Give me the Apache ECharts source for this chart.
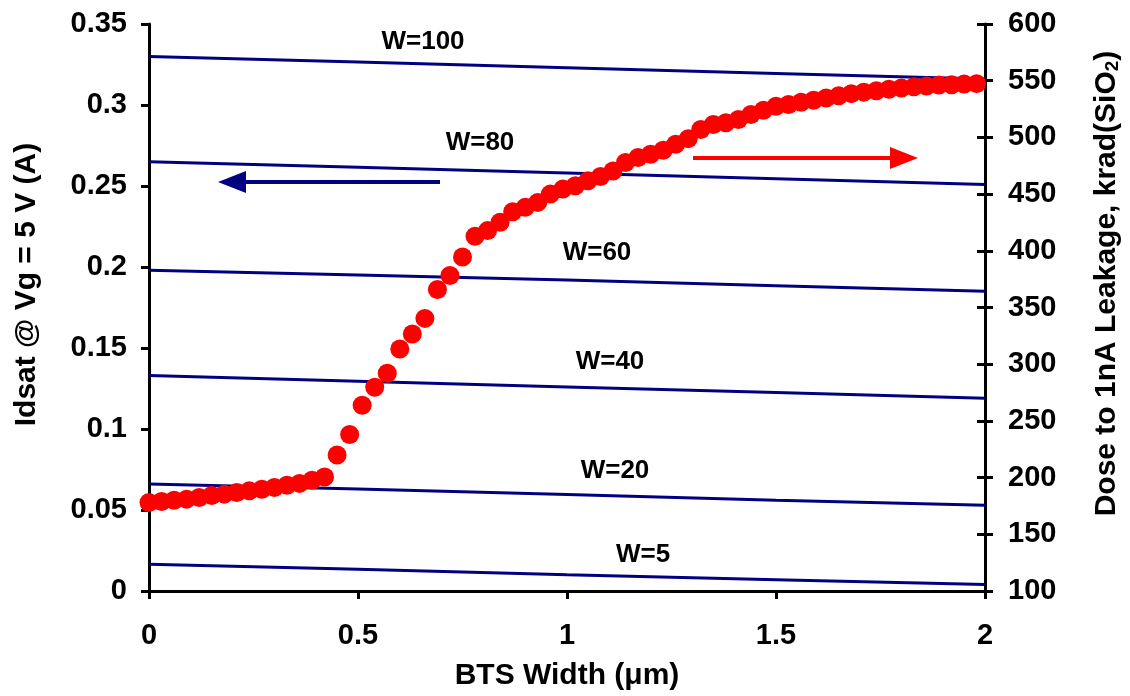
<!DOCTYPE html>
<html><head><meta charset="utf-8">
<script src="https://cdn.jsdelivr.net/npm/echarts@6/dist/echarts.min.js"></script>
<style>html,body{margin:0;padding:0;background:#fff;overflow:hidden;width:1130px;height:696px}#c{width:1130px;height:696px}</style>
</head><body><div id="c"></div>
<script>
// BTS width positions of the dose points (µm)
const doseX = [0,0.03,0.06,0.09,0.12,0.15,0.18,0.21,0.24,0.27,0.30,0.33,0.36,0.39,0.42,0.45,0.48,0.51,0.54,0.57,0.60,0.63,0.66,0.69,0.72,0.75,0.78,0.81,0.84,0.87,0.90,0.93,0.96,0.99,1.02,1.05,1.08,1.11,1.14,1.17,1.20,1.23,1.26,1.29,1.32,1.35,1.38,1.41,1.44,1.47,1.50,1.53,1.56,1.59,1.62,1.65,1.68,1.71,1.74,1.77,1.80,1.83,1.86,1.89,1.92,1.95,1.98];
// Dose to 1nA leakage, krad(SiO2)
const doseY = [178.1,178.9,180.1,181.0,182.5,184.2,185.4,186.8,188.3,189.7,191.2,193.2,194.9,197.6,200.6,219.9,238.0,263.8,279.6,292.1,313.4,326.6,340.4,365.8,378.3,394.5,412.9,417.8,425.2,434.5,438.3,442.7,450.0,454.4,457.3,461.7,465.5,470.4,477.8,482.2,485.1,488.6,493.9,498.9,507.0,511.4,512.9,515.8,520.2,524.0,527.5,529.0,531.0,532.7,534.8,536.8,538.6,539.9,541.2,542.5,543.6,544.6,545.4,546.1,546.5,547.1,547.4];
// Idsat lines (A) at these widths
const lineX = [0,0.5,1,1.5,2];
const w100 = [0.330,0.3265,0.323,0.3195,0.316];
const w80 = [0.265,0.2615,0.258,0.2545,0.251];
const w60 = [0.198,0.195,0.192,0.1885,0.185];
const w40 = [0.133,0.1295,0.126,0.1225,0.119];
const w20 = [0.066,0.063,0.0595,0.056,0.053];
const w5 = [0.0165,0.0135,0.010,0.007,0.004];
const lineNames = ['W=100','W=80','W=60','W=40','W=20','W=5'];
const lineData = [w100,w80,w60,w40,w20,w5];
// annotation labels
const labelText = ['W=100','W=80','W=60','W=40','W=20','W=5'];

const FONT = '"Liberation Sans", Arial, sans-serif';
const chart = echarts.init(document.getElementById('c'), null, {width:1130, height:696});
const axisLine = {show:true, lineStyle:{color:'#000', width:3}};
const tickOut = {show:true, length:8, lineStyle:{color:'#000', width:3}};
const lbl = {color:'#000', fontSize:29, fontWeight:'bold', fontFamily:FONT};
const titleStyle = {color:'#000', fontSize:30, fontWeight:'bold', fontFamily:FONT};

const series = lineData.map((d,k)=>({
  name: lineNames[k], type:'line', xAxisIndex:0, yAxisIndex:0,
  data: lineX.map((x,i)=>[x,d[i]]), showSymbol:false, symbol:'none',
  lineStyle:{color:'#000080', width:3}, z:2, silent:true
}));
series.push({
  name:'Dose', type:'scatter', xAxisIndex:0, yAxisIndex:1,
  data: doseX.map((x,i)=>[x,doseY[i]]), symbolSize:19,
  itemStyle:{color:'#ff0000', opacity:1}, z:5
});

const labelPos = [[423,42],[480,143],[597,253],[610,362],[615,471],[643,555]];
const graphics = labelText.map((t,i)=>({
  type:'text', x:labelPos[i][0], y:labelPos[i][1], z:10,
  style:{text:t, fill:'#000', font:'bold 26px '+FONT, textAlign:'center', textVerticalAlign:'middle'}
}));
// arrows
graphics.push({type:'line', shape:{x1:243,y1:182,x2:440,y2:182}, style:{stroke:'#000080', lineWidth:4}, z:10});
graphics.push({type:'polygon', shape:{points:[[218,182],[246,171],[246,193]]}, style:{fill:'#000080'}, z:10});
graphics.push({type:'line', shape:{x1:693,y1:158,x2:894,y2:158}, style:{stroke:'#ff0000', lineWidth:4}, z:10});
graphics.push({type:'polygon', shape:{points:[[918,158],[890,147],[890,169]]}, style:{fill:'#ff0000'}, z:10});

chart.setOption({
  animation:false,
  backgroundColor:'#fff',
  grid:{left:149, right:142, top:24, bottom:102, containLabel:false},
  xAxis:[{
    type:'value', min:0, max:2, interval:0.5,
    axisLine:axisLine, axisTick:tickOut, splitLine:{show:false},
    axisLabel:Object.assign({margin:30}, lbl),
    name:'BTS Width (μm)', nameLocation:'middle', nameGap:70,
    nameTextStyle:titleStyle
  }],
  yAxis:[{
    type:'value', position:'left', min:0, max:0.35, interval:0.05,
    axisLine:axisLine, axisTick:tickOut, splitLine:{show:false},
    axisLabel:Object.assign({margin:22}, lbl),
    name:'Idsat @ Vg = 5 V (A)', nameLocation:'middle', nameGap:107,
    nameTextStyle:Object.assign({padding:[0,0,0,46]}, titleStyle)
  },{
    type:'value', position:'right', min:100, max:600, interval:50,
    axisLine:axisLine, axisTick:tickOut, splitLine:{show:false},
    axisLabel:Object.assign({margin:23}, lbl),
    name:'{n|Dose to 1nA Leakage, krad(SiO}{s|2}{n|)}', nameLocation:'middle', nameGap:106, nameRotate:90,
    nameTextStyle:Object.assign({padding:[0,0,0,48],
      rich:{n:{fontSize:30, fontWeight:'bold', fontFamily:FONT, color:'#000'},
            s:{fontSize:19, fontWeight:'bold', fontFamily:FONT, color:'#000', padding:[12,0,0,0]}}}, titleStyle)
  },{
    type:'value', position:'right', min:100, max:600, interval:50,
    axisLine:{show:false}, axisTick:{show:true, inside:true, length:8, lineStyle:{color:'#000', width:3}},
    axisLabel:{show:false}, splitLine:{show:false}
  }],
  graphic:graphics,
  series:series
});
</script></body></html>
